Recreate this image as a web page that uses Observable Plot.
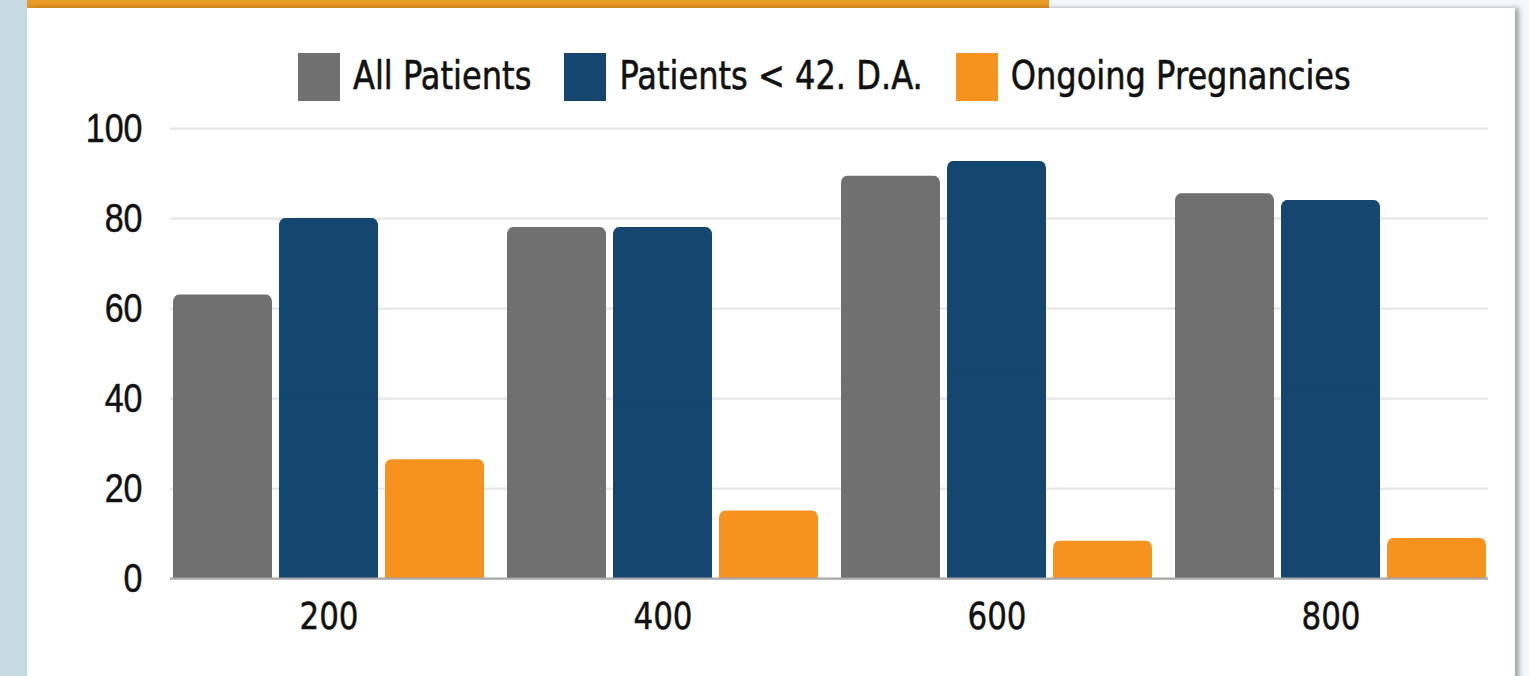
<!DOCTYPE html>
<html>
<head>
<meta charset="utf-8">
<script src="https://cdn.jsdelivr.net/npm/d3@7"></script>
<script src="https://cdn.jsdelivr.net/npm/@observablehq/plot@0.6"></script>
<style>
  html, body { margin: 0; padding: 0; }
  body {
    width: 1529px; height: 676px; overflow: hidden; position: relative;
    background: #f3f9fb; font-family: "DejaVu Sans", sans-serif;
  }
  .strip { position: absolute; left: 0; top: 0; width: 27px; height: 676px; background: #c8dae1; }
  .topbar { position: absolute; left: 27px; top: 0; width: 1022px; height: 8px; background: #eb9c24; }
  .card {
    position: absolute; left: 27px; top: 8px; width: 1488px; height: 680px; background: #fff;
    box-shadow: 4px 0 5px rgba(0,0,0,0.35);
  }
  .legend {
    position: absolute; left: 298px; top: 52px; height: 49px;
    display: flex; align-items: center; color: #111;
  }
  .legend .item { display: flex; align-items: center; margin-right: 33px; }
  .legend .swatch { width: 42px; height: 48px; margin-right: 13px; }
  .legend .label {
    display: inline-block; font-size: 32.1px; white-space: nowrap;
    transform: scaleY(1.2) translateY(-1px); -webkit-text-stroke: 0.5px #111;
  }
  .layer { position: absolute; left: 0; top: 0; }
  .layer text { stroke: #111; stroke-width: 0.4px; }
</style>
</head>
<body>
<div class="strip"></div>
<div class="topbar"></div>
<div class="card"></div>
<div class="legend" id="legend"></div>
<div id="chart"></div>
<script>
// Doses on the x axis and the three measured series (percent)
const doses = ["200", "400", "600", "800"];
const seriesNames = ["All Patients", "Patients < 42. D.A.", "Ongoing Pregnancies"];
const allPatients = [63, 78, 89.4, 85.5];
const under42 = [80, 78, 92.7, 84];
const ongoing = [26.4, 15, 8.3, 8.9];
const yTicks = [0, 20, 40, 60, 80, 100];
const seriesColors = ["#707070", "#15466f", "#f6931e"];

const seriesValues = [allPatients, under42, ongoing];
const rows = [];
doses.forEach((dose, i) => {
  seriesNames.forEach((name, j) => {
    rows.push({dose, series: name, value: seriesValues[j][i]});
  });
});

// Legend
const legend = d3.select("#legend");
seriesNames.forEach((name, j) => {
  const item = legend.append("div").attr("class", "item");
  item.append("div").attr("class", "swatch").style("background", seriesColors[j]);
  item.append("span").attr("class", "label").text(name);
});

// Every layer shares the same frame; the chart is laid out in a compact
// box and then stretched vertically.
const H = 540, K = 1.2;
const frame = {
  width: 1529,
  height: H,
  marginLeft: 170,
  marginRight: 41,
  marginTop: 106.7,
  marginBottom: 58.3,
  style: {background: "transparent", color: "#111", overflow: "visible"}
};

function addLayer(options) {
  const svg = Plot.plot({...frame, ...options});
  svg.setAttribute("height", H * K);
  svg.setAttribute("preserveAspectRatio", "none");
  svg.style.width = "1529px";
  svg.style.height = (H * K) + "px";
  svg.style.maxWidth = "none";
  svg.classList.add("layer");
  document.getElementById("chart").appendChild(svg);
}

// gridlines behind the bars
addLayer({
  y: {domain: [0, 100], axis: null},
  marks: [
    Plot.ruleY(yTicks.filter(v => v > 0), {stroke: "#e6e6e6", strokeWidth: 1.8})
  ]
});

// grouped bars, one facet per dose
addLayer({
  fx: {domain: doses, paddingInner: 0.063, paddingOuter: 0, label: null},
  x: {domain: seriesNames, paddingInner: 0.065, paddingOuter: 0, axis: null},
  y: {domain: [0, 100], axis: null},
  color: {domain: seriesNames, range: seriesColors},
  marks: [
    Plot.barY(rows, {fx: "dose", x: "series", y: "value", fill: "series", rx: 6}),
    // square off the bottom corners of each bar
    Plot.barY(rows, {fx: "dose", x: "series", y: d => d.value / 2, fill: "series"}),
    Plot.axisFx({anchor: "bottom", tickSize: 0, tickPadding: 20, fontSize: 31,
                 fontFamily: "DejaVu Sans, sans-serif", label: null})
  ]
});

// baseline and y axis on top
addLayer({
  y: {domain: [0, 100]},
  marks: [
    Plot.ruleY([0], {stroke: "#a8a8a8", strokeWidth: 1.8}),
    Plot.axisY({ticks: yTicks, tickSize: 0, tickPadding: 28, fontSize: 34,
                fontFamily: "Liberation Sans, Arial, sans-serif", label: null})
  ]
});
</script>
</body>
</html>
